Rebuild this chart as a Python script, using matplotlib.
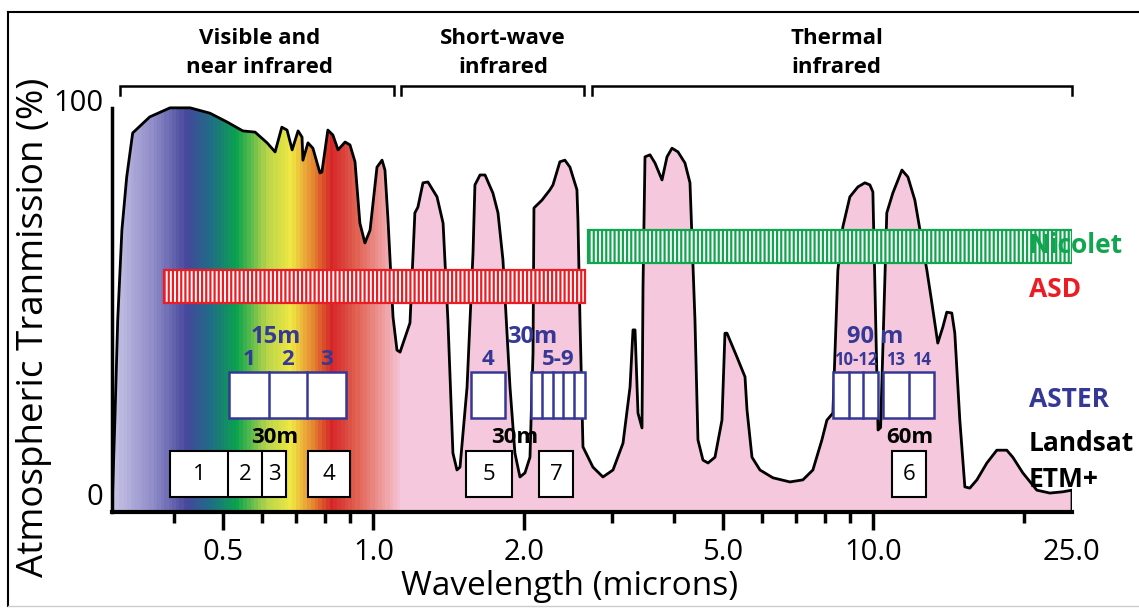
import matplotlib
matplotlib.use('Agg')
import matplotlib.pyplot as plt
import numpy as np
from matplotlib.colors import LinearSegmentedColormap
from matplotlib.patches import Polygon, Rectangle
from matplotlib.lines import Line2D

plt.rcParams['font.family'] = ['Open Sans', 'DejaVu Sans']
plt.rcParams['hatch.linewidth'] = 1.6

# atmospheric transmission curve (microns, %)
wavelength = [0.300, 0.304, 0.308, 0.314, 0.321, 0.330, 0.357, 0.392, 0.430, 0.471,
              0.509, 0.548, 0.580, 0.613, 0.636, 0.656, 0.672, 0.688, 0.707, 0.720,
              0.723, 0.740, 0.757, 0.782, 0.789, 0.811, 0.830, 0.850, 0.878, 0.898,
              0.919, 0.940, 0.962, 0.985, 1.017, 1.041, 1.055, 1.070, 1.095, 1.115,
              1.131, 1.184, 1.211, 1.228, 1.257, 1.286, 1.341, 1.379, 1.410, 1.443,
              1.470, 1.491, 1.540, 1.583, 1.597, 1.635, 1.673, 1.735, 1.776, 1.817,
              1.877, 1.920, 1.965, 2.011, 2.058, 2.087, 2.096, 2.175, 2.256, 2.288,
              2.362, 2.417, 2.474, 2.555, 2.567, 2.591, 2.627, 2.750, 2.880, 3.017,
              3.159, 3.263, 3.308, 3.339, 3.385, 3.448, 3.464, 3.496, 3.577, 3.661,
              3.781, 3.869, 3.959, 4.070, 4.203, 4.301, 4.401, 4.462, 4.566, 4.673,
              4.826, 4.984, 5.053, 5.100, 5.341, 5.542, 5.593, 5.723, 5.937, 6.303,
              6.816, 7.236, 7.577, 7.898, 8.082, 8.308, 8.501, 8.698, 8.984, 9.322,
              9.627, 9.851, 9.989, 10.23, 10.35, 10.65, 10.95, 11.42, 11.74, 12.12,
              12.41, 12.81, 13.11, 13.47, 13.79, 14.04, 14.37, 14.57, 14.91, 15.26,
              15.61, 16.13, 16.89, 17.68, 18.51, 19.03, 19.93, 21.26, 22.57, 23.96,
              25.0, 25.0]
transmission = [0.0, 22.3, 46.6, 68.4, 81.3, 92.0, 95.9, 98.1, 98.1, 96.8,
                94.7, 92.5, 92.2, 89.6, 87.4, 93.4, 92.7, 87.9, 92.5, 91.0,
                85.4, 89.6, 88.3, 82.3, 82.5, 92.7, 91.5, 87.9, 89.8, 89.1,
                85.0, 70.1, 65.3, 68.4, 83.7, 85.4, 83.0, 70.9, 47.3, 39.3,
                38.8, 45.9, 72.6, 74.0, 79.9, 80.1, 76.5, 70.1, 46.6, 14.3,
                10.2, 10.9, 30.3, 62.9, 79.4, 81.8, 81.8, 77.4, 72.6, 61.2,
                30.3, 14.3, 8.5, 9.5, 13.3, 38.6, 73.8, 75.7, 78.2, 79.4,
                85.0, 85.4, 83.7, 78.2, 70.9, 46.6, 15.8, 10.9, 8.5, 10.2,
                16.7, 30.3, 44.2, 44.2, 24.0, 20.4, 54.6, 86.2, 86.7, 84.7,
                80.6, 86.2, 88.3, 87.4, 84.7, 79.9, 46.6, 17.5, 12.6, 11.9,
                13.3, 22.3, 43.4, 43.4, 37.6, 32.8, 24.8, 13.3, 10.2, 8.3,
                7.3, 7.8, 10.2, 17.5, 22.3, 24.0, 58.7, 69.2, 76.5, 78.9,
                79.9, 79.4, 77.7, 19.9, 20.5, 72.6, 77.4, 83.0, 81.3, 75.7,
                68.4, 58.7, 50.7, 41.0, 44.9, 48.5, 48.3, 43.4, 22.3, 6.1,
                5.8, 7.8, 11.9, 15.0, 15.0, 13.3, 9.5, 5.3, 4.6, 4.9,
                5.3, 0.0]

# spectrometer coverage (microns)
asd_range = (0.381, 2.65)
nicolet_range = (2.69, 25.0)

# sensor band edges (microns)
aster_bands = [[0.514, 0.618, 0.737, 0.882], [1.568, 1.834],
               [2.068, 2.175, 2.288, 2.396, 2.52, 2.65],
               [8.31, 8.94, 9.54, 10.23], [10.46, 11.80, 13.23]]
aster_labels = [['1', '2', '3'], ['4'], ['5-9'], ['10-12'], ['13', '14']]
aster_res = ['15m', '30m', '90 m']
aster_res_at = [0.638, 2.077, 10.09]

landsat_bands = [[0.392, 0.512, 0.599, 0.669], [0.740, 0.898], [1.532, 1.894],
                 [2.145, 2.508], [10.91, 12.76]]
landsat_labels = [['1', '2', '3'], ['4'], ['5'], ['7'], ['6']]
landsat_res = ['30m', '30m', '60m']
landsat_res_at = [0.635, 1.920, 11.85]

# spectral regions
regions = ['Visible and\nnear infrared', 'Short-wave\ninfrared', 'Thermal\ninfrared']
region_edges = [(0.311, 1.10), (1.136, 2.64), (2.74, 25.0)]
region_centers = [0.593, 1.817, 8.46]

x_ticks = [0.5, 1, 2, 5, 10, 25]
x_tick_labels = ['0.5', '1.0', '2.0', '5.0', '10.0', '25.0']
x_minor = [0.4, 0.6, 0.7, 0.8, 0.9, 3, 4, 6, 7, 8, 9, 20]

# rainbow fill under the curve
grad_wl = [0.30, 0.36, 0.42, 0.47, 0.53, 0.61, 0.68, 0.75, 0.82, 0.92, 1.06, 1.14, 25.0]
grad_colors = ['#c5c3e5', '#8f8bc8', '#46479b', '#1f6d86', '#0aa34e', '#b9d54a',
               '#f1e843', '#e58a31', '#d52528', '#e0604f', '#efa5a8', '#f6c8dd', '#f6c8dd']

BLUE = '#363896'
RED = '#ec1c24'
GREEN = '#12a54f'

fig = plt.figure(figsize=(11.39, 6.09), dpi=100)
ax = fig.add_axes([112 / 1139, 97 / 609, 960 / 1139, 412 / 609])
ax.set_xscale('log')
ax.set_xlim(0.3, 25)
ax.set_ylim(0, 100)

# gradient clipped to the area under the curve
lo, hi = np.log10(0.3), np.log10(25)
stops = [(np.log10(w) - lo) / (hi - lo) for w in grad_wl]
cmap = LinearSegmentedColormap.from_list('spec', list(zip(stops, grad_colors)))
xe = np.geomspace(0.3, 25, 900)
xc = np.sqrt(xe[:-1] * xe[1:])
mesh = ax.pcolormesh(xe, [0, 100], np.log10(xc)[None, :], cmap=cmap,
                     vmin=lo, vmax=hi, shading='flat', zorder=1)
clip = Polygon(np.column_stack([wavelength, transmission]), closed=True,
               facecolor='none', edgecolor='none')
ax.add_patch(clip)
mesh.set_clip_path(clip)
ax.plot(wavelength, transmission, color='black', lw=2.0, zorder=3,
        solid_joinstyle='round')

# spectrometer bars
def hatched_bar(rng, y0, y1, color):
    ax.add_patch(Rectangle((rng[0], y0), rng[1] - rng[0], y1 - y0, facecolor='white',
                           edgecolor=color, hatch='||||', lw=1.6, zorder=4))

hatched_bar(asd_range, 50.7, 58.7, RED)
hatched_bar(nicolet_range, 60.4, 68.4, GREEN)

# sensor band boxes
def band_boxes(groups, y0, y1, color, lw):
    for edges in groups:
        ax.add_patch(Rectangle((edges[0], y0), edges[-1] - edges[0], y1 - y0,
                               facecolor='white', edgecolor=color, lw=lw, zorder=5))
        for e in edges[1:-1]:
            ax.plot([e, e], [y0, y1], color=color, lw=lw, zorder=5)

band_boxes(aster_bands, 22.8, 34.0, BLUE, 1.8)
band_boxes(landsat_bands, 3.6, 14.8, 'black', 1.5)

for edges, labs in zip(aster_bands, aster_labels):
    small = labs[0] in ('10-12', '13')
    if len(labs) == len(edges) - 1:
        xs = [np.sqrt(a * b) for a, b in zip(edges[:-1], edges[1:])]
    else:
        xs = [np.sqrt(edges[0] * edges[-1])]
    for x, t in zip(xs, labs):
        ax.text(x, 36.9, t, color=BLUE, ha='center', va='center',
                fontsize=12 if small else 16, fontweight='bold', zorder=6)

for x, t in zip(aster_res_at, aster_res):
    ax.text(x, 42.5, t, color=BLUE, ha='center', va='center', fontsize=17,
            fontweight='bold', zorder=6)

for edges, labs in zip(landsat_bands, landsat_labels):
    xs = [np.sqrt(a * b) for a, b in zip(edges[:-1], edges[1:])]
    for x, t in zip(xs, labs):
        ax.text(x, 9.2, t, color='black', ha='center', va='center', fontsize=16, zorder=6)

for x, t in zip(landsat_res_at, landsat_res):
    ax.text(x, 18.2, t, color='black', ha='center', va='center', fontsize=16,
            fontweight='bold', zorder=6)

# instrument names on the right
right_x = 20.5
for y, t, c in [(64.6, 'Nicolet', GREEN), (53.9, 'ASD', RED), (27.2, 'ASTER', BLUE),
                (16.7, 'Landsat', 'black'), (8.0, 'ETM+', 'black')]:
    ax.text(right_x, y, t, color=c, ha='left', va='center', fontsize=19,
            fontweight='bold', zorder=6, clip_on=False)

# region brackets and titles
for (a, b), c, t in zip(region_edges, region_centers, regions):
    ax.plot([a, a, b, b], [101.2, 103.4, 103.4, 101.2], color='black', lw=1.8,
            clip_on=False, solid_joinstyle='miter')
    ax.text(c, 105.3, t, ha='center', va='bottom', fontsize=16, fontweight='bold',
            linespacing=1.5)

# axes styling
for s in ('top', 'right'):
    ax.spines[s].set_visible(False)
ax.spines['left'].set_linewidth(2.5)
ax.spines['left'].set_bounds(0, 98)
ax.spines['bottom'].set_linewidth(3)
ax.set_xticks(x_ticks)
ax.set_xticklabels(x_tick_labels)
ax.set_xticks(x_minor, minor=True)
ax.xaxis.set_minor_formatter(plt.NullFormatter())
ax.tick_params(axis='x', which='major', length=13, width=2.5, pad=6, labelsize=21)
ax.tick_params(axis='x', which='minor', length=8, width=2.5)
ax.xaxis.get_major_ticks()[-1].tick1line.set_visible(False)
ax.set_yticks([0, 100])
ax.set_yticklabels(['0', '100'])
ax.tick_params(axis='y', length=0, pad=6, labelsize=21)
ax.yaxis.get_major_ticks()[0].label1.set_verticalalignment('bottom')

ax.set_xlabel('Wavelength (microns)', fontsize=24)
ax.xaxis.set_label_coords(0.477, -0.141)
ax.set_ylabel('Atmospheric Tranmission (%)', fontsize=26.5)
ax.yaxis.set_label_coords(-0.0625, 0.449)

# outer frame
fx0, fy0, fy1 = 8 / 1139, 3 / 609, 1 - 12 / 609
fig.add_artist(Line2D([fx0, 1], [fy1, fy1], color='black', lw=1.5, transform=fig.transFigure))
fig.add_artist(Line2D([fx0, fx0], [fy0, fy1], color='black', lw=1.5, transform=fig.transFigure))
fig.add_artist(Line2D([fx0, 1], [fy0, fy0], color='#cccccc', lw=1.0, transform=fig.transFigure))

fig.savefig('out.png', dpi=100, facecolor='white')
